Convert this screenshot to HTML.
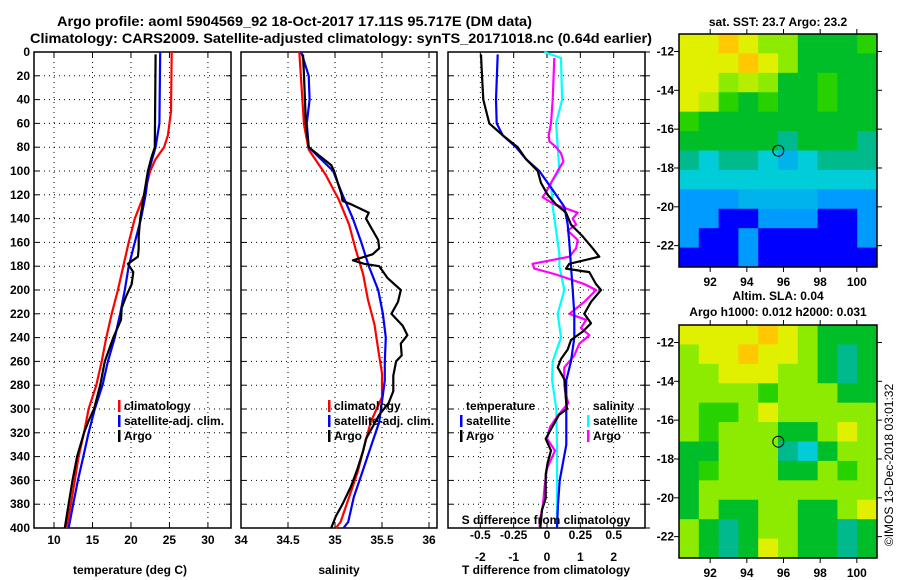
<!DOCTYPE html>
<html><head><meta charset="utf-8"><style>
html,body{margin:0;padding:0;background:#fff;}
svg{display:block;font-family:"Liberation Sans",sans-serif;}
.t{font-size:12px;font-weight:bold;fill:#000;}
</style></head><body>
<svg id="s" width="900" height="580" viewBox="0 0 900 580" xmlns="http://www.w3.org/2000/svg">
<text x="57" y="26" font-size="14" font-weight="bold" textLength="475" lengthAdjust="spacingAndGlyphs">Argo profile: aoml 5904569_92 18-Oct-2017 17.11S 95.717E (DM data)</text>
<text x="30" y="43" font-size="14" font-weight="bold" textLength="622" lengthAdjust="spacingAndGlyphs">Climatology: CARS2009. Satellite-adjusted climatology: synTS_20171018.nc (0.64d earlier)</text>
<g id="g"></g>
</svg>
<script>
// ---- data ----
const tempDepth=[0,50,70,80,90,100,120,140,160,180,200,220,240,260,280,300,320,340,360,380,400];
const tempClim=[25.3,25.2,24.8,24.3,23.2,22.5,21.7,20.5,19.7,19.0,18.3,17.5,16.8,16.2,15.5,14.5,13.9,13.2,12.7,12.2,11.6];
const satDepth=[0,60,80,100,120,140,160,180,200,220,240,260,280,300,320,340,360,380,400];
const tempSat=[23.8,23.7,23.2,22.3,21.9,21.3,20.5,19.7,19.2,18.6,17.9,17.0,16.3,15.3,14.5,13.8,13.1,12.5,11.9];
const argoTDepth=[2,80,90,100,120,140,155,165,172,178,185,195,205,215,225,240,260,280,300,310,320,340,360,380,400];
const tempArgo=[23.2,23.1,22.6,22.2,21.7,21.2,21.0,21.0,20.9,19.6,20.3,20.1,19.4,18.8,18.7,17.7,16.6,16.0,15.2,14.5,13.9,13.0,12.4,11.9,11.4];

const salClimDepth=[0,61,82,103,124,145,166,187,208,229,250,270,290,311,332,353,374,395,400];
const salClim=[34.62,34.67,34.72,34.90,35.04,35.15,35.22,35.30,35.35,35.42,35.46,35.50,35.50,35.38,35.31,35.24,35.15,35.06,35.01];
const salSatDepth=[0,20,40,60,80,100,120,140,160,180,200,220,240,260,276,311,332,353,374,395,400];
const salSat=[34.64,34.72,34.73,34.70,34.72,34.98,35.08,35.19,35.28,35.36,35.46,35.51,35.54,35.53,35.53,35.47,35.38,35.29,35.20,35.14,35.09];
const salArgoDepth=[2,20,60,80,95,100,110,120,125,128,135,140,147,158,165,170,175,178,180,190,200,210,220,230,238,245,255,260,272,285,295,305,315,325,335,350,365,380,390,400];
const salArgo=[34.66,34.67,34.69,34.72,34.96,34.99,35.03,35.07,35.08,35.17,35.36,35.33,35.38,35.46,35.47,35.40,35.19,35.31,35.47,35.56,35.70,35.67,35.60,35.72,35.77,35.70,35.71,35.65,35.62,35.62,35.57,35.47,35.40,35.33,35.30,35.24,35.17,35.08,35.01,34.96];

const dTArgoDepth=[2,20,40,60,70,80,90,100,110,120,128,135,145,155,165,172,178,182,185,195,200,210,220,228,235,242,250,258,265,276,290,300,305,315,325,335,345,355,365,375,385,400];
const dTArgo=[-1.98,-1.95,-1.91,-1.73,-1.33,-0.88,-0.63,-0.28,-0.18,0.02,0.27,0.57,0.72,1.07,1.37,1.57,0.67,0.57,1.27,1.47,1.62,1.32,1.12,1.32,1.07,0.72,0.62,0.42,0.32,0.54,0.56,0.60,0.36,0.16,-0.04,0.12,0.02,-0.04,-0.04,-0.04,-0.15,-0.20];
const dTSatDepth=[2,40,60,70,80,90,100,110,120,130,145,160,180,200,220,240,260,276,300,315,330,345,360,380,400];
const dTSat=[-1.48,-1.53,-1.51,-1.33,-0.93,-0.63,-0.23,0.02,0.27,0.52,0.62,0.67,0.72,0.77,0.82,0.82,0.72,0.58,0.58,0.58,0.58,0.48,0.38,0.33,0.30];
const dSArgoDepth=[5,40,60,70,75,80,85,92,100,110,118,122,128,135,140,145,150,158,165,172,178,182,187,195,200,210,220,225,232,238,245,255,265,276,285,295,305,315,325,335,350,365,380,395,400];
const dSArgo=[0.055,0.043,0.030,0.013,0.018,0.068,0.105,0.123,0.080,0.030,-0.008,-0.033,0.055,0.230,0.193,0.218,0.155,0.230,0.218,0.168,-0.108,-0.095,0.068,0.280,0.368,0.280,0.168,0.293,0.255,0.318,0.243,0.205,0.130,0.128,0.135,0.160,0.085,0.023,0.000,0.060,0.000,-0.018,-0.030,-0.055,-0.055];
const dSSatDepth=[0,5,40,60,80,100,110,130,150,170,180,200,220,240,260,276,300,330,360,400];
const dSSat=[-0.02,0.105,0.113,0.068,0.080,0.093,0.030,0.043,0.068,0.093,0.093,0.130,0.080,0.105,0.043,0.038,0.070,0.075,0.075,0.075];

const depthTicks=[0,20,40,60,80,100,120,140,160,180,200,220,240,260,280,300,320,340,360,380,400];
const tempTicks=[10,15,20,25,30];
const salTicks=[34,34.5,35,35.5,36];
const dTTicks=[-2,-1,0,1,2];
const dSTicks=[-0.5,-0.25,0,0.25,0.5];
const dSTickLabels=["-0.5","-0.25","0","0.25","0.5"];
const lonTicks=[92,94,96,98,100];
const latTicks=[-12,-14,-16,-18,-20,-22];
const sstGrid=[
[6,6,6.5,6,5,5,4,4,4,4.5],
[6,6,6,6.5,6,5,4,4,4,4],
[6,6,5,5.5,5,4,4,4.5,4,4],
[6,5.5,4.5,4,4.5,4,4,4.5,4,4],
[4.5,4,4,4,4,4,4,4,4,4],
[4,4,4,4,4,3.5,4,4,4,3.5],
[3.5,3,3.5,3.5,3,2.5,3,3.5,3.5,3.5],
[3,3,3,3,3,3,3,3,3,3],
[2,2,2,2.5,2.5,2.5,2.5,2,2,2],
[2,2,1,1,2,2,2,1,1,2],
[2,1,1,2,1,1,1,1,1,2],
[1,1,1,2,1,1,1,1,1,1]];
const slaGrid=[
[6,6,6,6,6.5,6,5,4,4,4],
[5,6,6,6.5,6,6,5,4,3.5,4],
[5,5,6,6,6,5,5,4,3.5,4],
[5,5,5,5,4.5,5,5,5,4,4],
[5,4.5,4.5,5,6,5,5,5,5,5],
[5,4.5,5,5,5,4,4,5,6,5],
[4,4,5,5,5,3.5,3,4,5,5],
[4,4.5,5,5,5,4,4,5,4.5,5],
[4,5,5,5,5,5,5,5,5,5],
[4,5,4,4,5,5,4,4,5,6],
[5,4,3.5,4,5,5,4,4,3.5,4],
[5,4,3.5,4,6,5,4,4,3.5,4]];
const argoLon=95.717, argoLat=-17.11;

// ---- drawing ----
const NS="http://www.w3.org/2000/svg";
const G=document.getElementById('g');
function el(tag,attrs,parent){const e=document.createElementNS(NS,tag);for(const k in attrs)e.setAttribute(k,attrs[k]);(parent||G).appendChild(e);return e;}
function txt(x,y,s,anchor,parent,cls){const e=el('text',{x:x,y:y,'text-anchor':anchor||'middle',class:cls||'t'},parent);e.textContent=s;return e;}
const Y0=52,Y1=528;
const yD=d=>Y0+(Y1-Y0)*d/400;

function panel(name,x0,x1,dmin,dmax,xTicks,xLabels,labelY,leftLabels){
  const g=el('g',{});
  
  
  const sx=v=>x0+(x1-x0)*(v-dmin)/(dmax-dmin);
  depthTicks.forEach(d=>{if(d>0&&d<400)el('line',{x1:x0,x2:x1,y1:yD(d),y2:yD(d),stroke:'#000','stroke-width':1,'stroke-dasharray':'1,4'},g);
    el('line',{x1:x0,x2:x0+5,y1:yD(d),y2:yD(d),stroke:'#000'},g);
    el('line',{x1:x1-5,x2:x1,y1:yD(d),y2:yD(d),stroke:'#000'},g);
    if(leftLabels){const t=txt(x0-4,yD(d)+4,String(d),'end',g);}});
  xTicks.forEach((v,i)=>{const X=sx(v);
    if(X>x0+1&&X<x1-1)el('line',{x1:X,x2:X,y1:Y0,y2:Y1,stroke:'#000','stroke-dasharray':'1,4'},g);
    el('line',{x1:X,x2:X,y1:Y1-5,y2:Y1,stroke:'#000'},g);
    el('line',{x1:X,x2:X,y1:Y0,y2:Y0+5,stroke:'#000'},g);
    const t=txt(X,labelY,xLabels[i],'middle',g);});
  el('rect',{x:x0,y:Y0,width:x1-x0,height:Y1-Y0,fill:'none',stroke:'#000','stroke-width':1.5},g);
  return {g,sx};
}
function line(p,depths,vals,color,name,w){
  const pts=depths.map((d,i)=>p.sx(vals[i]).toFixed(1)+','+yD(d).toFixed(1)).join(' ');
  const e=el('polyline',{points:pts,fill:'none',stroke:color,'stroke-width':w||2.2,'stroke-linejoin':'round'},p.g);
  
  
}
function legend(g,x,y,items){items.forEach((it,i)=>{el('rect',{x:x,y:y+i*15-10,width:2.5,height:12,fill:it[1]},g);const t=txt(x+6,y+i*15,it[0],'start',g);});}

// panel 1 temperature
const p1=panel('temperature-panel',34,231,7.4,33,tempTicks,tempTicks.map(String),544,true);
line(p1,tempDepth,tempClim,'#f00','climatology-temp-line');
line(p1,satDepth,tempSat,'#00f','satellite-temp-line');
line(p1,argoTDepth,tempArgo,'#000','argo-temp-line');
legend(p1.g,118,410,[['climatology','#f00'],['satellite-adj. clim.','#00f'],['Argo','#000']]);
txt(130,574,'temperature (deg C)','middle',p1.g);

// panel 2 salinity
const p2=panel('salinity-panel',241,437,34,36.085,salTicks,salTicks.map(String),544,false);
line(p2,salClimDepth,salClim,'#f00','climatology-salinity-line');
line(p2,salSatDepth,salSat,'#00f','satellite-salinity-line');
line(p2,salArgoDepth,salArgo,'#000','argo-salinity-line');
legend(p2.g,328,410,[['climatology','#f00'],['satellite-adj. clim.','#00f'],['Argo','#000']]);
txt(339,574,'salinity','middle',p2.g);

// panel 3 differences
const p3=panel('difference-panel',448,645,-2.97,2.94,dTTicks,dTTicks.map(String),561,false);
const sxS=v=>p3.sx(v*4);
const p3s={g:p3.g,sx:sxS};
line(p3s,dSSatDepth,dSSat,'#0ff','satellite-sdiff-line');
line(p3s,dSArgoDepth,dSArgo,'#f0f','argo-sdiff-line');
line(p3,dTSatDepth,dTSat,'#00f','satellite-tdiff-line');
line(p3,dTArgoDepth,dTArgo,'#000','argo-tdiff-line');
txt(466,410,'temperature','start',p3.g);
legend(p3.g,460,425,[['satellite','#00f'],['Argo','#000']]);
txt(593,410,'salinity','start',p3.g);
legend(p3.g,587,425,[['satellite','#0ff'],['Argo','#f0f']]);
txt(546,524,'S difference from climatology','middle',p3.g);
dSTicks.forEach((v,i)=>{const t=txt(sxS(v),539,dSTickLabels[i],'middle',p3.g);});
txt(546,574,'T difference from climatology','middle',p3.g);
depthTicks.forEach(d=>el('line',{x1:645,x2:650,y1:yD(d),y2:yD(d),stroke:'#000'},p3.g));

// maps
const stops=[[1,[0,0,255]],[2,[0,155,255]],[3,[0,205,215]],[3.5,[0,185,140]],[4,[0,190,40]],[4.5,[40,210,0]],[5,[140,235,0]],[6,[225,240,0]],[6.5,[255,200,0]],[7,[255,130,0]]];
function cmap(v){for(let i=1;i<stops.length;i++){if(v<=stops[i][0]){const a=stops[i-1],b=stops[i];const t=(v-a[0])/(b[0]-a[0]);return 'rgb('+a[1].map((c,k)=>Math.round(c+(b[1][k]-c)*t)).join(',')+')';}}return 'rgb(255,130,0)';}
function map(name,top,grid,title,titleY,labY){
  const g=el('g',{});
  
  
  const L=679,R=877,bottom=top+233;
  const lonMin=90.3,lonMax=101.1,latMax=-11.1,latMin=-23.1;
  const sx=v=>L+(R-L)*(v-lonMin)/(lonMax-lonMin);
  const sy=v=>top+(bottom-top)*(latMax-v)/(latMax-latMin);
  const rows=grid.length,cols=grid[0].length,cw=(R-L)/cols,ch=(bottom-top)/rows;
  grid.forEach((row,r)=>row.forEach((v,c)=>{const e=el('rect',{x:L+c*cw,y:top+r*ch,width:cw+0.5,height:ch+0.5,fill:cmap(v)},g);
    
    }));
  el('rect',{x:L,y:top,width:R-L,height:bottom-top,fill:'none',stroke:'#000','stroke-width':1.5},g);
  lonTicks.forEach(v=>{el('line',{x1:sx(v),x2:sx(v),y1:bottom,y2:bottom+5,stroke:'#000'},g);el('line',{x1:sx(v),x2:sx(v),y1:top-5,y2:top,stroke:'#000'},g);
    const t=txt(sx(v),labY,String(v),'middle',g);});
  latTicks.forEach(v=>{el('line',{x1:L-5,x2:L,y1:sy(v),y2:sy(v),stroke:'#000'},g);el('line',{x1:R,x2:R+5,y1:sy(v),y2:sy(v),stroke:'#000'},g);
    const t=txt(L-5,sy(v)+4,String(v),'end',g);});
  const c=el('circle',{cx:sx(argoLon),cy:sy(argoLat),r:5.5,fill:'none',stroke:'#000','stroke-width':1},g);
  
  
  title.forEach((s,i)=>{const t=txt(778,titleY+i*16,s,'middle',g);});
}
map('sst-map',34,sstGrid,['sat. SST: 23.7 Argo: 23.2'],26,286);
map('sla-map',325,slaGrid,['Altim. SLA: 0.04','Argo h1000: 0.012 h2000: 0.031'],300,577);
const ts=txt(0,0,'©IMOS 13-Dec-2018 03:01:32','middle',null);
ts.setAttribute('transform','translate(893,465) rotate(-90)');
ts.setAttribute('style','font-weight:normal');


</script>
</body></html>
